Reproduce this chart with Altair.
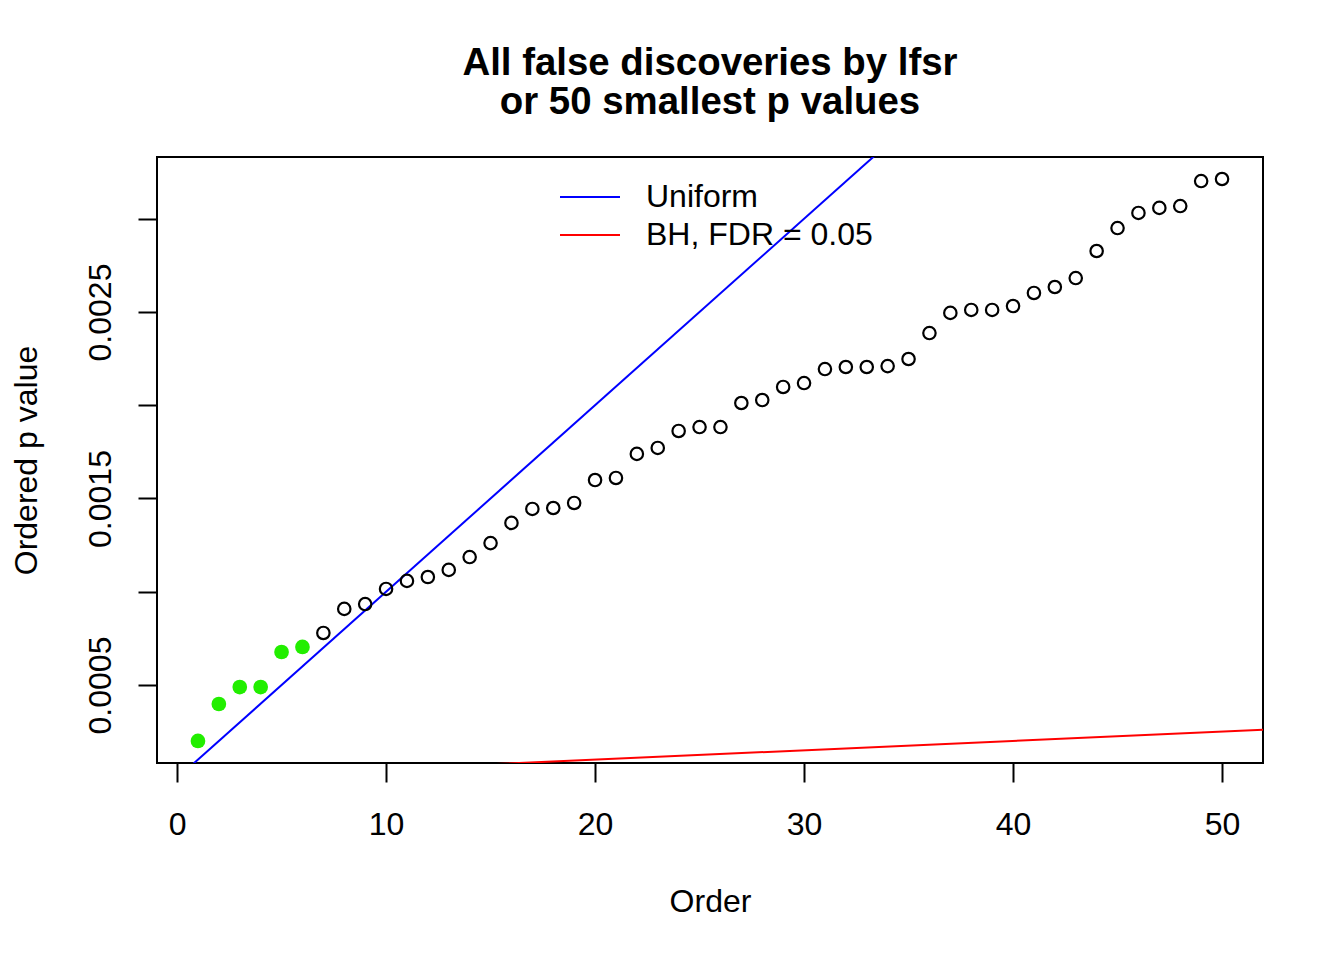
import altair as alt
import pandas as pd

# Data
order = list(range(1, 51))
p_values = [
    0.000200, 0.000398, 0.000489, 0.000489, 0.000677, 0.000704, 0.000779, 0.000908, 0.000934, 0.001015,
    0.001058, 0.001079, 0.001117, 0.001186, 0.001261, 0.001369, 0.001444, 0.001449, 0.001476, 0.001599,
    0.001610, 0.001739, 0.001771, 0.001862, 0.001883, 0.001883, 0.002012, 0.002028, 0.002098, 0.002119,
    0.002194, 0.002205, 0.002205, 0.002210, 0.002248, 0.002387, 0.002495, 0.002511, 0.002511, 0.002532,
    0.002602, 0.002634, 0.002682, 0.002827, 0.002950, 0.003031, 0.003058, 0.003068, 0.003202, 0.003213,
]
lfsr_discovery = [True] * 6 + [False] * 44

ref_names = ["Uniform", "BH, FDR = 0.05"]
ref_colors = ["#0000FF", "#FF0000"]
ref_x_start = [0, 0]
ref_x_end = [60, 60]
ref_y_start = [0.0, 0.0]
ref_y_end = [0.006, 0.0003]

x_ticks = [0, 10, 20, 30, 40, 50]
y_ticks = [0.0005, 0.0010, 0.0015, 0.0020, 0.0025, 0.0030]

pts = pd.DataFrame({"order": order, "p": p_values, "disc": lfsr_discovery})
refs = pd.DataFrame({"name": ref_names, "x": ref_x_start, "x2": ref_x_end,
                     "y": ref_y_start, "y2": ref_y_end})

FONT = "Liberation Sans"
x_scale = alt.Scale(domain=[-0.96, 51.96], nice=False, zero=False)
y_scale = alt.Scale(domain=[0.0000818, 0.003331], nice=False, zero=False)

x_axis = alt.Axis(values=x_ticks, title="Order", grid=False, domain=False,
                  tickColor="black", tickWidth=2, tickSize=19,
                  labelFont=FONT, labelFontSize=32, labelColor="black", labelPadding=27,
                  labelAngle=0, labelAlign="center", labelBaseline="top",
                  titleFont=FONT, titleFontSize=32, titleFontWeight="normal", titleColor="black",
                  titleX=553, titleY=148, titleBaseline="alphabetic", titleAlign="center")
y_axis = alt.Axis(values=y_ticks, title="Ordered p value", grid=False, domain=False,
                  tickColor="black", tickWidth=2, tickSize=19,
                  labelFont=FONT, labelFontSize=32, labelColor="black", labelPadding=28,
                  labelAngle=270, labelAlign="center", labelBaseline="alphabetic",
                  labelExpr="round(datum.value*10000) % 2 == 1 ? format(datum.value, '.4f') : ''",
                  titleFont=FONT, titleFontSize=32, titleFontWeight="normal", titleColor="black",
                  titleAngle=270, titleX=-121, titleY=303, titleBaseline="alphabetic", titleAlign="center")

lines = alt.Chart(refs).mark_rule(strokeWidth=2, clip=True).encode(
    x=alt.X("x:Q", scale=x_scale, axis=x_axis),
    x2="x2:Q",
    y=alt.Y("y:Q", scale=y_scale, axis=y_axis),
    y2="y2:Q",
    color=alt.Color("name:N", scale=alt.Scale(domain=ref_names, range=ref_colors),
                    legend=alt.Legend(title=None, orient="none", legendX=417, legendY=24,
                                      symbolType="M-3,0H3", symbolSize=400, symbolStrokeWidth=2,
                                      labelFont=FONT, labelFontSize=32, labelColor="black",
                                      labelLimit=0, labelOffset=40, padding=0, rowPadding=6)),
)

open_pts = alt.Chart(pts).transform_filter("!datum.disc").mark_point(
    shape="circle", filled=False, stroke="black", strokeWidth=2.2, size=154, opacity=1
).encode(x=alt.X("order:Q", scale=x_scale), y=alt.Y("p:Q", scale=y_scale))

green_pts = alt.Chart(pts).transform_filter("datum.disc").mark_circle(
    color="#22EE00", size=216, opacity=1
).encode(x=alt.X("order:Q", scale=x_scale), y=alt.Y("p:Q", scale=y_scale))

chart = alt.layer(lines, open_pts, green_pts).properties(
    width=1106, height=606,
    title=alt.TitleParams(text=["All false discoveries by lfsr", "or 50 smallest p values"],
                          font=FONT, fontSize=38.4, fontWeight="bold", color="black",
                          anchor="middle", frame="group", baseline="bottom",
                          lineHeight=39, offset=-3),
    autosize=alt.AutoSizeParams(type="none"),
    padding={"left": 149, "top": 149, "right": 60, "bottom": 180},
).configure(background="white").configure_view(stroke="black", strokeWidth=2)

chart.save("out.html", embed_options={"renderer": "svg", "actions": False})
